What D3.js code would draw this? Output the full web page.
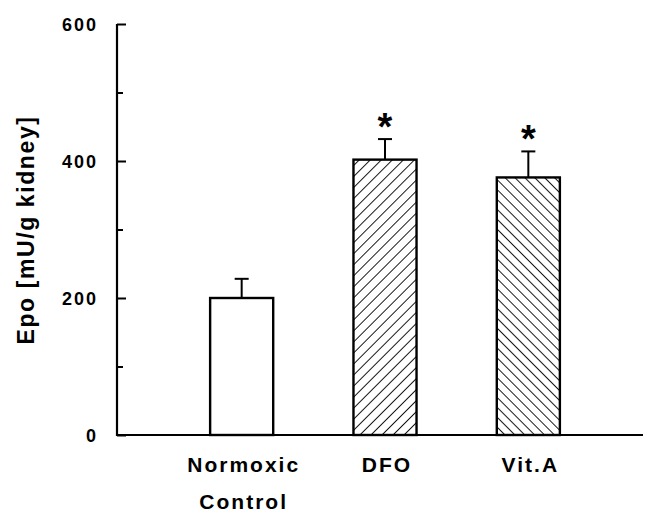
<!DOCTYPE html>
<html>
<head>
<meta charset="utf-8">
<script src="https://cdn.jsdelivr.net/npm/d3@7"></script>
<style>
    body { margin: 0; background: #fff; }
    svg { display: block; }
    text { font-family: "Liberation Sans", Arial, sans-serif; font-weight: bold; fill: #000; }
</style>
</head>
<body>
<svg id="viz1" width="654" height="512"></svg>
<script>
// data
const groups = ["Normoxic Control", "DFO", "Vit.A"];
const groupLines = [["Normoxic", "Control"], ["DFO"], ["Vit.A"]];
const epoMean = [200, 402, 376];
const epoErr = [28, 30, 38];
const starred = [false, true, true];
const fills = ["none", "url(#hatchUp)", "url(#hatchDown)"];
const majorTicks = [0, 200, 400, 600];
const minorTicks = [100, 300, 500];

var svg = d3.select("#viz1");

var yScale = d3.scaleLinear()
    .domain([0, 600])
    .range([435, 24]);

var xScale = d3.scaleBand()
    .domain(groups)
    .range([170, 600])
    .paddingInner(0.56)
    .paddingOuter(0.28);

// hatch patterns
var defs = svg.append("defs");
defs.append("pattern")
    .attr("id", "hatchUp")
    .attr("patternUnits", "userSpaceOnUse")
    .attr("width", 7.8).attr("height", 7.8)
    .attr("patternTransform", "rotate(45)")
    .append("line")
    .attr("x1", 0).attr("y1", 0).attr("x2", 0).attr("y2", 7.8)
    .style("stroke", "black").style("stroke-width", 1.8);
defs.append("pattern")
    .attr("id", "hatchDown")
    .attr("patternUnits", "userSpaceOnUse")
    .attr("width", 7).attr("height", 7)
    .attr("patternTransform", "rotate(-45)")
    .append("line")
    .attr("x1", 0).attr("y1", 0).attr("x2", 0).attr("y2", 7)
    .style("stroke", "black").style("stroke-width", 1.8);

var data = groups.map(function (g, i) {
    return {name: g, lines: groupLines[i], mean: epoMean[i], err: epoErr[i], star: starred[i], fill: fills[i]};
});

// bars
svg.selectAll("rect.bar")
    .data(data)
    .enter()
    .append("rect")
    .attr("class", "bar")
    .attr("x", d => xScale(d.name))
    .attr("y", d => yScale(d.mean))
    .attr("width", xScale.bandwidth())
    .attr("height", d => yScale(0) - yScale(d.mean))
    .style("fill", d => d.fill === "none" ? "#fff" : d.fill)
    .style("stroke", "black")
    .style("stroke-width", 2.4);

// error bars (upper only)
var eb = svg.selectAll("g.err")
    .data(data)
    .enter()
    .append("g")
    .attr("class", "err");
eb.append("line")
    .attr("x1", d => xScale(d.name) + xScale.bandwidth() / 2)
    .attr("x2", d => xScale(d.name) + xScale.bandwidth() / 2)
    .attr("y1", d => yScale(d.mean))
    .attr("y2", d => yScale(d.mean + d.err))
    .style("stroke", "black").style("stroke-width", 2);
eb.append("line")
    .attr("x1", d => xScale(d.name) + xScale.bandwidth() / 2 - 7)
    .attr("x2", d => xScale(d.name) + xScale.bandwidth() / 2 + 7)
    .attr("y1", d => yScale(d.mean + d.err))
    .attr("y2", d => yScale(d.mean + d.err))
    .style("stroke", "black").style("stroke-width", 2);

// significance stars
svg.selectAll("text.star")
    .data(data.filter(d => d.star))
    .enter()
    .append("text")
    .attr("class", "star")
    .attr("x", d => xScale(d.name) + xScale.bandwidth() / 2)
    .attr("y", d => yScale(d.mean + d.err) + 1)
    .attr("text-anchor", "middle")
    .style("font-size", "38px")
    .text("*");

// y axis
var yAxis = d3.axisRight(yScale)
    .tickValues(majorTicks)
    .tickSize(9)
    .tickFormat("");
var yMinor = d3.axisRight(yScale)
    .tickValues(minorTicks)
    .tickSize(6)
    .tickFormat("");

var ag = svg.append("g").attr("transform", "translate(117,0)");
ag.call(yAxis);
ag.append("g").call(yMinor);
ag.selectAll(".domain").remove();
ag.selectAll("line").style("stroke", "black").style("stroke-width", 2);

svg.append("line")
    .attr("x1", 117).attr("x2", 117)
    .attr("y1", yScale(600)).attr("y2", yScale(0) + 1)
    .style("stroke", "black").style("stroke-width", 2.2);
svg.append("line")
    .attr("x1", 116).attr("x2", 643)
    .attr("y1", yScale(0)).attr("y2", yScale(0))
    .style("stroke", "black").style("stroke-width", 2.2);

svg.selectAll("text.ytick")
    .data(majorTicks)
    .enter()
    .append("text")
    .attr("class", "ytick")
    .attr("x", 98)
    .attr("y", d => yScale(d) + 6.5)
    .attr("text-anchor", "end")
    .style("font-size", "18px")
    .style("letter-spacing", "2px")
    .text(d => d);

// x labels
var xl = svg.selectAll("text.xlab")
    .data(data)
    .enter()
    .append("text")
    .attr("class", "xlab")
    .attr("text-anchor", "middle")
    .style("font-size", "21px")
    .style("letter-spacing", "2px");
xl.selectAll("tspan")
    .data(d => d.lines.map(l => ({l: l, x: xScale(d.name) + xScale.bandwidth() / 2 + 2})))
    .enter()
    .append("tspan")
    .attr("x", d => d.x)
    .attr("y", (d, i) => 472 + i * 37)
    .text(d => d.l);

// y title
svg.append("text")
    .attr("transform", "translate(34,230) rotate(-90)")
    .attr("text-anchor", "middle")
    .style("font-size", "23px")
    .style("letter-spacing", "1.6px")
    .text("Epo [mU/g kidney]");
</script>
</body>
</html>
